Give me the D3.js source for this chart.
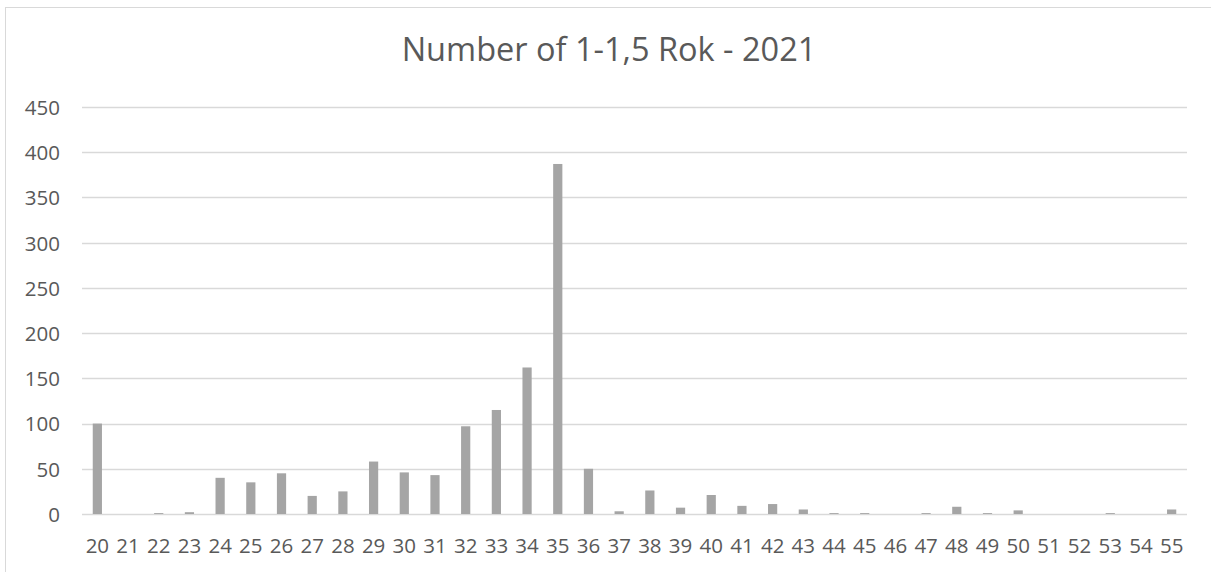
<!DOCTYPE html>
<html>
<head>
<meta charset="utf-8">
<script src="https://cdn.jsdelivr.net/npm/d3@7"></script>
<style>
  html, body { margin: 0; padding: 0; background: #fff; }
  svg { display: block; }
</style>
</head>
<body>
<svg id="chart" width="1211" height="572"></svg>
<script>
// Age categories along the x axis
const ages = [20,21,22,23,24,25,26,27,28,29,30,31,32,33,34,35,36,37,38,39,40,41,42,43,44,45,46,47,48,49,50,51,52,53,54,55];
// Count for each age
const counts = [100,0,1,2,40,35,45,20,25,58,46,43,97,115,162,387,50,3,26,7,21,9,11,5,1,1,0,1,8,1,4,0,0,1,0,5];
// Value axis ticks
const yTicks = [0,50,100,150,200,250,300,350,400,450];
const chartTitle = "Number of 1-1,5 Rok - 2021";

const svg = d3.select("#chart");
const font = "'Open Sans', 'Liberation Sans', sans-serif";
const textColor = "#595959";
const labelSize = "20.5px";

// Chart frame
svg.append("rect")
  .attr("x", 5.5).attr("y", 7.5)
  .attr("width", 1220).attr("height", 580)
  .attr("fill", "#fff")
  .attr("stroke", "#d9d9d9").attr("stroke-width", 1);

const plot = { left: 82, right: 1187, top: 107, bottom: 514 };

const x = d3.scaleBand()
  .domain(ages)
  .range([plot.left, plot.right])
  .paddingInner(0.7)
  .paddingOuter(0.35);

const y = d3.scaleLinear()
  .domain([0, 450])
  .range([plot.bottom, plot.top]);

// Horizontal gridlines
svg.append("g")
  .selectAll("line")
  .data(yTicks)
  .join("line")
  .attr("x1", plot.left).attr("x2", plot.right)
  .attr("y1", d => Math.round(y(d)) + 0.5)
  .attr("y2", d => Math.round(y(d)) + 0.5)
  .attr("stroke", "#d9d9d9")
  .attr("stroke-width", 1.3);

// Bars
svg.append("g")
  .selectAll("rect")
  .data(ages.map((a, i) => ({ age: a, value: counts[i] })))
  .join("rect")
  .attr("x", d => x(d.age))
  .attr("width", x.bandwidth())
  .attr("y", d => y(d.value))
  .attr("height", d => y(0) - y(d.value))
  .attr("fill", "#a5a5a5");

// Y axis labels
const yAxis = d3.axisLeft(y).tickValues(yTicks).tickSize(0).tickPadding(0);
const gy = svg.append("g")
  .attr("transform", `translate(${plot.left - 22},0)`)
  .call(yAxis);
gy.select(".domain").remove();
gy.selectAll("text")
  .attr("fill", textColor)
  .attr("dy", "0.36em")
  .style("font-family", font)
  .style("font-size", labelSize);

// X axis labels
const xAxis = d3.axisBottom(x).tickSize(0).tickPadding(0);
const gx = svg.append("g")
  .attr("transform", `translate(0,553)`)
  .call(xAxis);
gx.select(".domain").remove();
gx.selectAll("text")
  .attr("fill", textColor)
  .attr("y", 0)
  .attr("dy", 0)
  .style("font-family", font)
  .style("font-size", labelSize);

// Title
svg.append("text")
  .attr("x", 609)
  .attr("y", 61)
  .attr("text-anchor", "middle")
  .attr("fill", textColor)
  .style("font-family", font)
  .style("font-size", "32.5px")
  .text(chartTitle);
</script>
</body>
</html>
